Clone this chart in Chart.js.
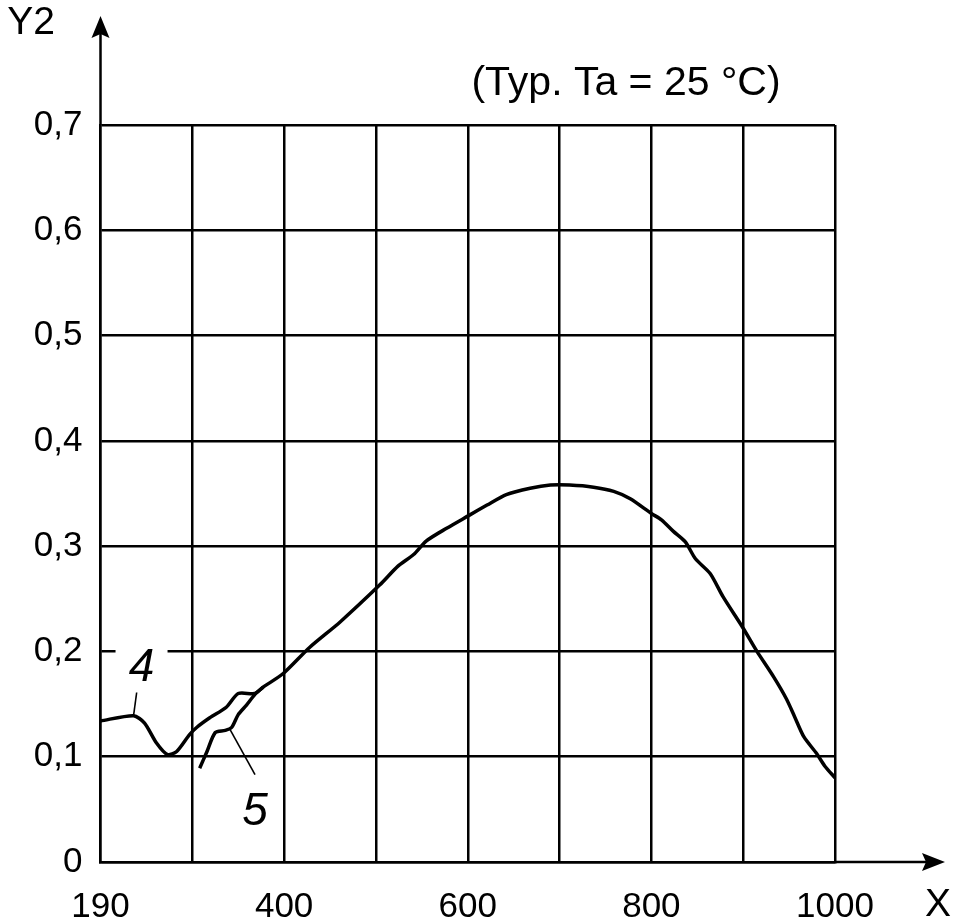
<!DOCTYPE html>
<html>
<head>
<meta charset="utf-8">
<script src="https://cdn.jsdelivr.net/npm/chart.js@4.4.1/dist/chart.umd.min.js"></script>
<style>
  body { margin: 0; background: #fff; }
  canvas { display: block; }
</style>
</head>
<body>
<canvas id="grafico" width="955" height="924"></canvas>
<script>
// Curva 4
const x4 = [200, 236, 248, 261, 273, 283, 297, 305, 319, 337, 350, 368, 377, 399, 428, 461, 504, 524, 541, 555,
            577, 601, 621, 642, 668, 690, 711, 737, 759, 777, 800, 811, 824, 837, 848, 864, 878, 900, 915, 933,
            947, 956, 966, 980, 989, 1000];
const y4 = [0.134, 0.139, 0.132, 0.113, 0.102, 0.105, 0.121, 0.128, 0.137, 0.147, 0.160, 0.160, 0.166, 0.179, 0.204, 0.228, 0.263, 0.281, 0.292, 0.305,
            0.317, 0.329, 0.339, 0.349, 0.355, 0.358, 0.358, 0.356, 0.352, 0.345, 0.331, 0.325, 0.314, 0.304, 0.288, 0.274, 0.252, 0.222, 0.200, 0.176,
            0.155, 0.138, 0.119, 0.103, 0.091, 0.080];
// Curva 5
const x5 = [308, 316, 325, 336, 343, 350, 359, 368, 377];
const y5 = [0.089, 0.105, 0.123, 0.125, 0.128, 0.140, 0.149, 0.159, 0.166];

// etiquetas del eje X (el primer valor se rotula 190)
const xTicks = [200, 400, 600, 800, 1000];
const xTickLabels = ['190', '400', '600', '800', '1000'];

const FUENTE = '"Liberation Sans", Arial, sans-serif';

const puntos = (xs, ys) => xs.map((x, i) => ({ x: x, y: ys[i] }));

// flechas de los ejes, textos y rotulos de curvas
const extras = {
  id: 'extras',
  afterDraw(chart) {
    const { ctx, chartArea: a, scales: { x, y } } = chart;
    ctx.save();
    ctx.strokeStyle = '#000';
    ctx.fillStyle = '#000';
    ctx.lineWidth = 2.5;

    // eje Y con flecha
    ctx.beginPath(); ctx.moveTo(a.left, a.top); ctx.lineTo(a.left, 32); ctx.stroke();
    ctx.beginPath();
    ctx.moveTo(a.left, 16); ctx.lineTo(a.left - 9, 38); ctx.lineTo(a.left, 34); ctx.lineTo(a.left + 9, 38);
    ctx.closePath(); ctx.fill();

    // eje X con flecha
    ctx.beginPath(); ctx.moveTo(a.right, a.bottom); ctx.lineTo(928, a.bottom); ctx.stroke();
    ctx.beginPath();
    ctx.moveTo(945, a.bottom); ctx.lineTo(922, a.bottom - 9); ctx.lineTo(926, a.bottom); ctx.lineTo(922, a.bottom + 9);
    ctx.closePath(); ctx.fill();

    ctx.textAlign = 'center';
    ctx.textBaseline = 'middle';
    ctx.font = '39px ' + FUENTE;
    ctx.fillText('Y2', 31, 23);
    ctx.fillText('X', 938, 905);
    ctx.font = '41px ' + FUENTE;
    ctx.fillText('(Typ. Ta = 25 °C)', 626, 84);

    // rotulos 4 y 5 con lineas de referencia
    const rotulos = [
      { t: '4', tx: 244.7, ty: 0.184, l: [[239.4, 0.161], [236, 0.139]], fondo: true },
      { t: '5', tx: 368.3, ty: 0.047, l: [[341, 0.126], [368.3, 0.083]], fondo: false }
    ];
    ctx.font = 'italic 46px ' + FUENTE;
    rotulos.forEach(r => {
      const px = x.getPixelForValue(r.tx), py = y.getPixelForValue(r.ty);
      if (r.fondo) {
        ctx.fillStyle = '#fff';
        ctx.fillRect(px - 26, py - 24, 52, 46);
        ctx.fillStyle = '#000';
      }
      ctx.fillText(r.t, px, py);
      ctx.lineWidth = 1.6;
      ctx.beginPath();
      ctx.moveTo(x.getPixelForValue(r.l[0][0]), y.getPixelForValue(r.l[0][1]));
      ctx.lineTo(x.getPixelForValue(r.l[1][0]), y.getPixelForValue(r.l[1][1]));
      ctx.stroke();
    });
    ctx.restore();
  }
};

const estiloCurva = {
  borderColor: '#000',
  borderWidth: 3.5,
  pointRadius: 0,
  fill: false,
  tension: 0.25,
  showLine: true
};

new Chart(document.getElementById('grafico').getContext('2d'), {
  type: 'scatter',
  data: {
    datasets: [
      Object.assign({ label: '4', data: puntos(x4, y4) }, estiloCurva),
      Object.assign({ label: '5', data: puntos(x5, y5) }, estiloCurva)
    ]
  },
  options: {
    responsive: false,
    animation: false,
    layout: { padding: { left: 0, top: 125, right: 120, bottom: 0 } },
    plugins: { legend: { display: false }, tooltip: { enabled: false } },
    scales: {
      x: {
        type: 'linear',
        min: 200,
        max: 1000,
        afterFit: s => { s.height = 62; },
        grid: { color: '#000', lineWidth: 2.5, drawTicks: false },
        border: { display: true, color: '#000', width: 2.5 },
        ticks: {
          stepSize: 100,
          padding: 24,
          color: '#000',
          font: { family: FUENTE, size: 35 },
          maxRotation: 0,
          autoSkip: false,
          callback: v => {
            const i = xTicks.indexOf(v);
            return i >= 0 ? xTickLabels[i] : '';
          }
        }
      },
      y: {
        min: 0,
        max: 0.7,
        afterFit: s => { s.width = 100.5; },
        grid: { color: '#000', lineWidth: 2.5, drawTicks: false },
        border: { display: true, color: '#000', width: 2.5 },
        ticks: {
          stepSize: 0.1,
          padding: 18,
          color: '#000',
          font: { family: FUENTE, size: 35 },
          callback: v => (Math.abs(v) < 1e-9 ? '0' : v.toFixed(1).replace('.', ','))
        }
      }
    }
  },
  plugins: [extras]
});
</script>
</body>
</html>
